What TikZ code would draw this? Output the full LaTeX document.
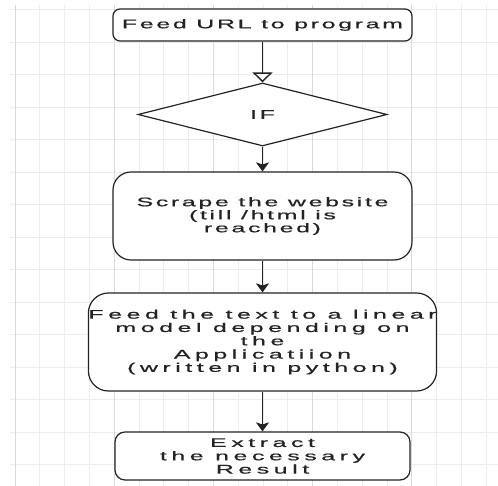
\documentclass[tikz,border=0pt]{standalone}
\usepackage{fontspec}
\usepackage{tikz}
\usetikzlibrary{arrows.meta,shapes.geometric}
\newfontfamily\flowfont[FakeStretch=2.0,FakeBold=0.6,LetterSpace=21]{Liberation Sans}
\newfontfamily\wideflowfont[FakeStretch=2.0,FakeBold=0.6,LetterSpace=36]{Liberation Sans}
\definecolor{GridMajor}{RGB}{218,218,218}
\definecolor{GridMinor}{RGB}{236,236,236}
\definecolor{InkGrey}{RGB}{35,35,35}

\begin{document}
\begin{tikzpicture}[x=1pt,y=-1pt,
    gridminor/.style={draw=GridMinor,line width=0.8pt},
    gridmajor/.style={draw=GridMajor,line width=1pt},
    box/.style={draw=InkGrey,line width=1.2pt,fill=white,align=center,inner sep=0pt,
      text=InkGrey,font=\flowfont\fontsize{12.5}{13}\selectfont},
    widebox/.style={box,font=\wideflowfont\fontsize{12.5}{13.3}\selectfont},
    decision/.style={box,diamond},
    flow/.style={draw=InkGrey,line width=1.4pt,-{Stealth[length=9pt,width=13pt,inset=2pt]}},
    openflow/.style={draw=InkGrey,line width=1.4pt,-{Triangle[length=10pt,width=20pt,fill=white]}}]
  \useasboundingbox (0,0) rectangle (498,486);
  \fill[white] (0,0) rectangle (498,486);
  % background grid
  \foreach \k in {0,...,19}
    \draw[gridminor] ({15+24.8*\k},5) -- ({15+24.8*\k},486);
  \foreach \k in {0,...,14}
    \draw[gridminor] (10,{9.5+32.5*\k}) -- (498,{9.5+32.5*\k});
  \foreach \k in {0,...,4}
    \draw[gridmajor] ({15+99.2*\k},5) -- ({15+99.2*\k},486);

  % steps
  \node[box,rounded corners=7pt,minimum width=299pt,minimum height=32pt] (feed) at (262.5,25)
    {Feed URL to program};
  \node[decision,minimum width=249pt,minimum height=63pt] (cond) at (262.5,114.5) {IF};
  \node[box,rounded corners=18pt,minimum width=299pt,minimum height=88pt] (scrape) at (262.5,216)
    {Scrape the website\\(till /html is\\reached)};
  \node[widebox,rounded corners=20pt,minimum width=346pt,minimum height=98pt] (model) at (262.5,342)
    {Feed the text to a linear\\model depending on\\the\\Applicatiion\\(written in python)};
  \node[widebox,rounded corners=10pt,minimum width=295pt,minimum height=48pt] (result) at (262.5,456)
    {Extract\\the necessary\\Result};

  % connectors
  \draw[openflow] (feed) -- (cond);
  \draw[flow] (cond) -- (scrape);
  \draw[flow] (scrape) -- (model);
  \draw[flow] (model) -- (result);
\end{tikzpicture}
\end{document}
